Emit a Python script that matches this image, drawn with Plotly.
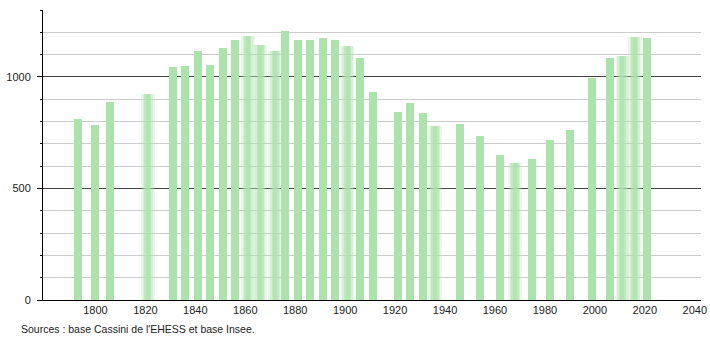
import plotly.graph_objects as go

years = [1793, 1800, 1806, 1821, 1831, 1836, 1841, 1846, 1851, 1856, 1861, 1866,
         1872, 1876, 1881, 1886, 1891, 1896, 1901, 1906, 1911, 1921, 1926, 1931,
         1936, 1946, 1954, 1962, 1968, 1975, 1982, 1990, 1999, 2006, 2011, 2016, 2021]
population = [811, 784, 886, 922, 1045, 1050, 1117, 1054, 1131, 1167, 1185, 1144,
              1114, 1207, 1167, 1167, 1176, 1167, 1140, 1086, 932, 842, 883, 838,
              778, 788, 734, 652, 613, 634, 716, 760, 995, 1086, 1096, 1180, 1173]
blurred_years = [1821, 1861, 1866, 1872, 1901, 1936, 1968, 2011, 2016]
x_ticks = [1800, 1820, 1840, 1860, 1880, 1900, 1920, 1940, 1960, 1980, 2000, 2020, 2040]
y_labels = [0, 500, 1000]
source_text = "Sources : base Cassini de l'EHESS et base Insee."

BAR = "rgb(172,226,172)"
W = 3.2

sharp_x = [y for y in years if y not in blurred_years]
sharp_v = [p for y, p in zip(years, population) if y not in blurred_years]
blur_x = [y for y in years if y in blurred_years]
blur_v = [p for y, p in zip(years, population) if y in blurred_years]

fig = go.Figure()
fig.add_trace(go.Bar(x=sharp_x, y=sharp_v, width=W, marker=dict(color=BAR, line=dict(width=0)),
                     showlegend=False))
for wf, op in [(1.7, 0.25), (1.3, 0.35), (0.9, 0.5), (0.5, 0.7)]:
    fig.add_trace(go.Bar(x=blur_x, y=blur_v, width=W * wf,
                         marker=dict(color=BAR, line=dict(width=0), opacity=op),
                         showlegend=False))

fig.update_layout(
    width=710, height=340,
    margin=dict(l=43, r=9, t=10, b=40, autoexpand=False),
    paper_bgcolor="white", plot_bgcolor="white",
    barmode="overlay", bargap=0,
    font=dict(family="Liberation Sans, Arial, sans-serif", size=11, color="#222"),
    xaxis=dict(range=[1779, 2042.5], tickvals=x_ticks, showgrid=False, zeroline=False,
               showline=True, linecolor="black", linewidth=1, ticks="", automargin=False,
               tickfont=dict(size=11, color="#222")),
    yaxis=dict(range=[0, 1300], tickvals=y_labels, showgrid=True, gridcolor="#444",
               gridwidth=1, zeroline=False, showline=True, linecolor="black", linewidth=1,
               ticks="outside", ticklen=5, tickcolor="black", automargin=False,
               ticklabelstandoff=4,
               minor=dict(dtick=100, showgrid=True, gridcolor="#cccccc", gridwidth=1,
                          ticks="outside", ticklen=2, tickcolor="black"),
               tickfont=dict(size=11, color="#222")),
    annotations=[dict(text=source_text, xref="paper", yref="paper",
                      x=-23 / 658, y=-29 / 290, xanchor="left", yanchor="middle",
                      showarrow=False, borderpad=0, font=dict(size=10.5, color="#222"))],
)
fig.write_html("out.html")
